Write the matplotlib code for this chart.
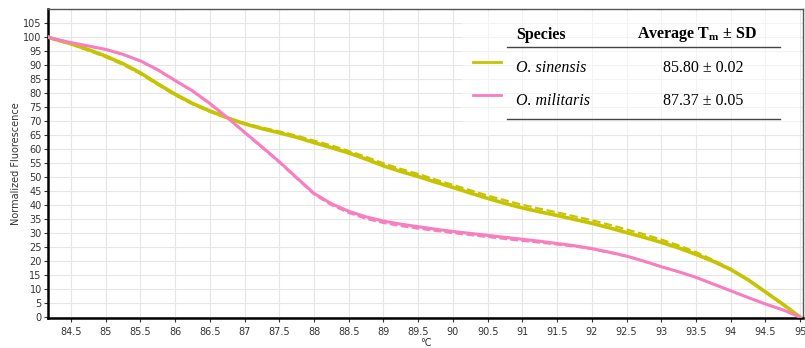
import numpy as np
import matplotlib
matplotlib.use('Agg')
import matplotlib.pyplot as plt
from matplotlib.lines import Line2D
from matplotlib.patches import Rectangle

# temperature grid (deg C)
temp = [84.17, 84.25, 84.5, 84.75, 85, 85.25, 85.5, 85.75, 86, 86.25, 86.5, 86.75,
        87, 87.25, 87.5, 87.75, 88, 88.25, 88.5, 88.75, 89, 89.25, 89.5, 89.75,
        90, 90.25, 90.5, 90.75, 91, 91.25, 91.5, 91.75, 92, 92.25, 92.5, 92.75,
        93, 93.25, 93.5, 93.75, 94, 94.25, 94.5, 94.75, 95]

# O. sinensis
sinensis = [100, 99.3, 97.6, 95.5, 93.2, 90.5, 87.2, 83.3, 79.6, 76.3, 73.6, 71.2,
            69.0, 67.3, 65.8, 64.2, 62.3, 60.5, 58.6, 56.4, 54.0, 52.0, 50.2, 48.2,
            46.3, 44.3, 42.4, 40.6, 39.0, 37.6, 36.3, 34.9, 33.5, 31.9, 30.2, 28.5,
            26.7, 24.7, 22.4, 19.9, 17.0, 13.3, 9.0, 4.6, 0]
sinensis_rep = [100, 99.2, 97.4, 95.2, 92.8, 90.1, 86.8, 83.0, 79.2, 76.0, 73.3, 71.0,
                69.3, 67.7, 66.3, 64.8, 63.0, 61.3, 59.3, 57.2, 54.9, 52.9, 51.1, 49.1,
                47.2, 45.3, 43.4, 41.7, 40.1, 38.7, 37.4, 36.0, 34.6, 33.0, 31.3, 29.6,
                27.7, 25.6, 23.2, 20.4, 17.2, 13.5, 9.1, 4.7, 0]

# O. militaris
militaris = [100, 99.4, 98.0, 96.8, 95.6, 93.8, 91.5, 88.3, 84.5, 80.8, 76.3, 71.3,
             66.0, 60.8, 55.5, 49.8, 44.2, 40.5, 37.8, 35.8, 34.3, 33.2, 32.3, 31.4,
             30.6, 29.9, 29.2, 28.5, 27.8, 27.1, 26.3, 25.5, 24.5, 23.2, 21.8, 20.0,
             18.0, 16.2, 14.2, 11.8, 9.4, 7.0, 4.7, 2.6, 0]
militaris_rep = [100, 99.4, 98.0, 96.7, 95.5, 93.7, 91.4, 88.2, 84.4, 80.6, 76.1, 71.1,
                 65.8, 60.5, 55.2, 49.5, 43.8, 40.0, 37.2, 35.1, 33.6, 32.5, 31.6, 30.8,
                 30.0, 29.3, 28.6, 27.9, 27.2, 26.6, 25.9, 25.2, 24.3, 23.0, 21.7, 19.9,
                 18.0, 16.2, 14.2, 11.8, 9.4, 7.0, 4.7, 2.6, 0]

species = ['O. sinensis', 'O. militaris']
tm_text = ['85.80 \u00b1 0.02', '87.37 \u00b1 0.05']
colors = ['#c6c300', '#f77fbf']

xticks = np.arange(84.5, 95.01, 0.5)
yticks = np.arange(0, 106, 5)

fig = plt.figure(figsize=(8.05, 3.48), dpi=100)
ax = fig.add_axes([48 / 805, 30 / 348, 755 / 805, 309 / 348])

ax.plot(temp, sinensis_rep, color=colors[0], lw=1.6, ls='--', zorder=3)
ax.plot(temp, sinensis, color=colors[0], lw=2.6, zorder=4)
ax.plot(temp, militaris_rep, color=colors[1], lw=1.5, ls='--', zorder=3)
ax.plot(temp, militaris, color=colors[1], lw=2.2, zorder=4)

ax.set_xlim(84.17, 95.04)
ax.set_ylim(-0.3, 110)
ax.set_xticks(xticks)
ax.set_xticklabels(['%g' % t for t in xticks])
ax.set_yticks(yticks)
ax.grid(True, color='#e6e6e6', lw=0.8)
ax.set_axisbelow(True)
ax.tick_params(labelsize=7, colors='#333333', length=3, width=0.8)
ax.tick_params(axis='y', pad=1.5)
for s in ['left', 'bottom']:
    ax.spines[s].set_linewidth(1.8)
    ax.spines[s].set_color('black')
for s in ['top', 'right']:
    ax.spines[s].set_linewidth(1.0)
    ax.spines[s].set_color('#555555')

ax.set_xlabel('\u00b0C', fontsize=7, color='#333333', labelpad=1)
ax.set_ylabel('Normalized Fluorescence', fontsize=7, color='#333333', labelpad=1.5)

# table-like legend
fig.patches.append(Rectangle((462 / 805, 1 - 135 / 348), 338 / 805, 124 / 348,
                             transform=fig.transFigure, facecolor='white',
                             edgecolor='none', alpha=0.55, zorder=5))
serif = 'Liberation Serif'
fs = 11.5
def fx(px):
    return px / 805
def fy(py):
    return 1 - py / 348

fig.text(fx(516), fy(35), 'Species', family=serif, weight='bold', fontsize=fs,
         va='center', ha='left', zorder=6)
fig.text(fx(697), fy(35), r'Average T$_\mathregular{m}$ $\mathregular{\pm}$ SD', family=serif,
         weight='bold', fontsize=fs, va='center', ha='center', zorder=6)
for yy in [47, 119]:
    fig.add_artist(Line2D([fx(507), fx(780)], [fy(yy), fy(yy)], color='#444444', lw=1.0,
                          transform=fig.transFigure, zorder=6))
rows_y = [68, 101]
for i in range(2):
    fig.add_artist(Line2D([fx(473), fx(501)], [fy(rows_y[i] - 6), fy(rows_y[i] - 6)],
                          color=colors[i], lw=2.0, transform=fig.transFigure, zorder=6))
    fig.text(fx(516), fy(rows_y[i]), species[i], family=serif, style='italic',
             fontsize=fs, va='center', ha='left', zorder=6)
    fig.text(fx(703), fy(rows_y[i]), tm_text[i], family=serif, fontsize=fs,
             va='center', ha='center', zorder=6)

fig.savefig('out.png', dpi=100)
